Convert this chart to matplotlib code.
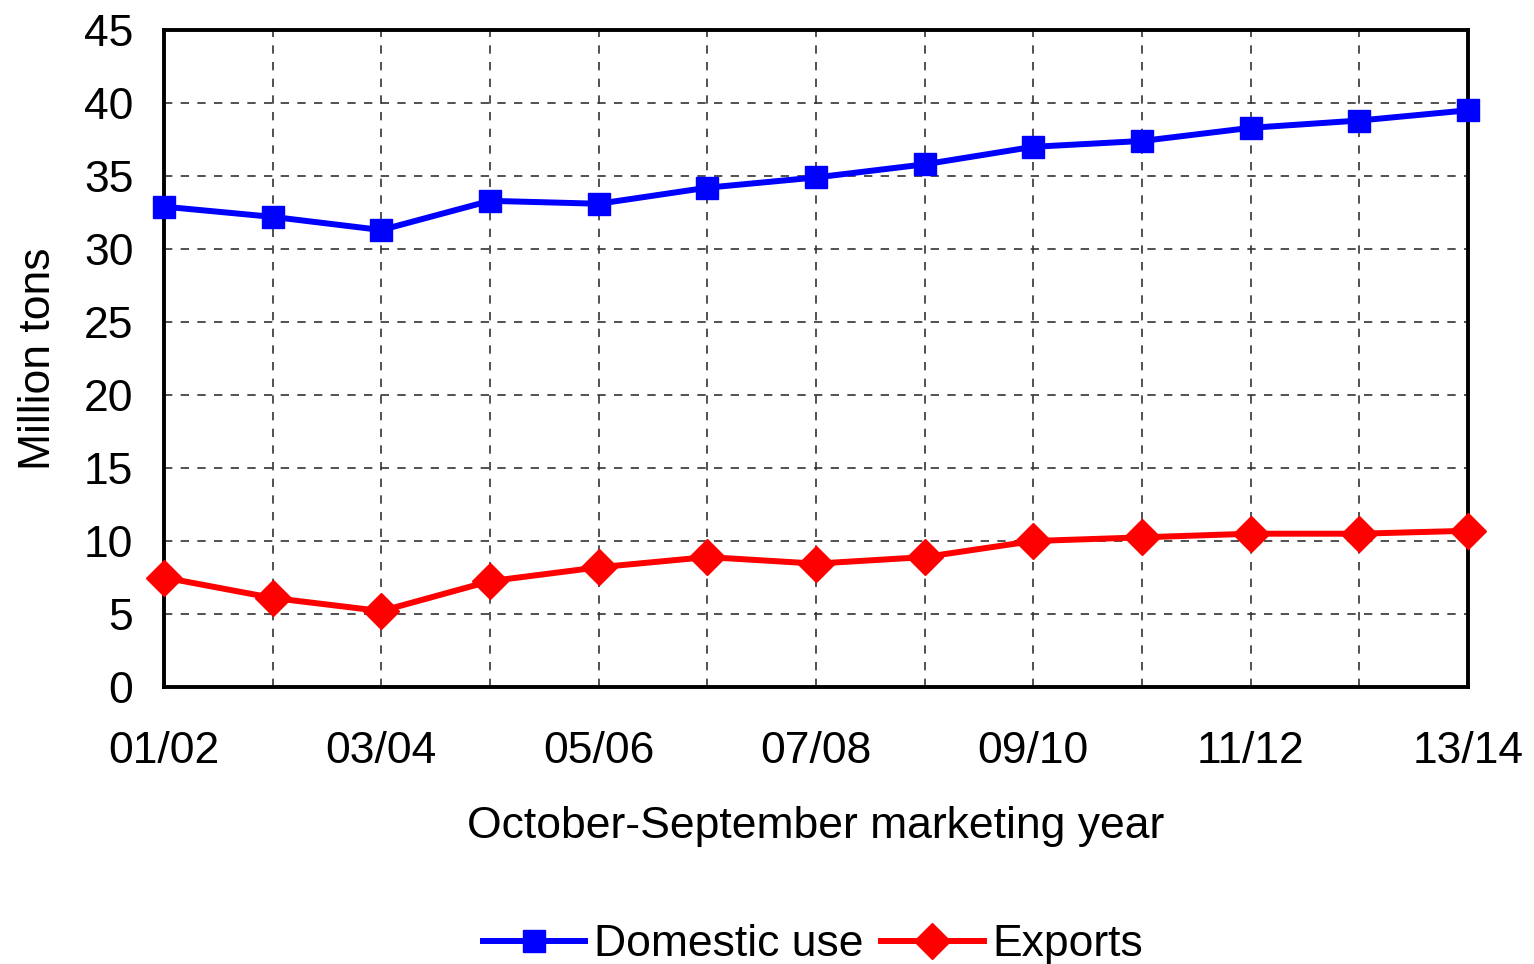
import matplotlib
matplotlib.use("Agg")
import matplotlib.pyplot as plt

plt.rcParams["font.family"] = ["Liberation Sans", "DejaVu Sans"]

# marketing years (Oct-Sep)
years = ["01/02", "02/03", "03/04", "04/05", "05/06", "06/07", "07/08",
         "08/09", "09/10", "10/11", "11/12", "12/13", "13/14"]
domestic_use = [32.9, 32.2, 31.3, 33.3, 33.1, 34.2, 34.9,
                35.8, 37.0, 37.4, 38.3, 38.8, 39.5]
exports = [7.5, 6.1, 5.2, 7.25, 8.2, 8.9, 8.45,
           8.9, 10.0, 10.25, 10.5, 10.5, 10.7]
y_ticks = list(range(0, 50, 5))

fs = 32

fig = plt.figure(figsize=(15.34, 9.64), dpi=100)
ax = fig.add_axes([164 / 1534, 277 / 964, 1304 / 1534, 657 / 964])

x = list(range(len(years)))
ax.plot(x, domestic_use, color="#0000ff", lw=4.3, marker="s", ms=16,
        label="Domestic use", zorder=3, clip_on=False)
ax.plot(x, exports, color="#ff0000", lw=4.3, marker="D", ms=18,
        label="Exports", zorder=3, clip_on=False)

ax.set_xlim(0, len(years) - 1)
ax.set_ylim(0, 45)
ax.set_yticks(y_ticks)
ax.set_xticks(x[::2])
ax.set_xticklabels(years[::2])
ax.set_xticks(x, minor=True)

ax.tick_params(axis="both", which="both", length=0, labelsize=fs)
ax.tick_params(axis="x", pad=32)
ax.tick_params(axis="y", pad=22)

ax.grid(True, which="both", color="#333333", linestyle=(0, (5, 5)), linewidth=1.2)
ax.set_axisbelow(True)
for s in ax.spines.values():
    s.set_linewidth(2.8)
    s.set_color("black")

ax.set_xlabel("October-September marketing year", fontsize=fs, labelpad=24)
ax.set_ylabel("Million tons", fontsize=fs, labelpad=18)

fig.legend(loc="center", bbox_to_anchor=(0.53, 0.02), ncol=2, frameon=False,
           fontsize=fs, handlelength=2.3, handletextpad=0.2, columnspacing=0.4,
           borderaxespad=0)

fig.savefig("out.png", dpi=100)
